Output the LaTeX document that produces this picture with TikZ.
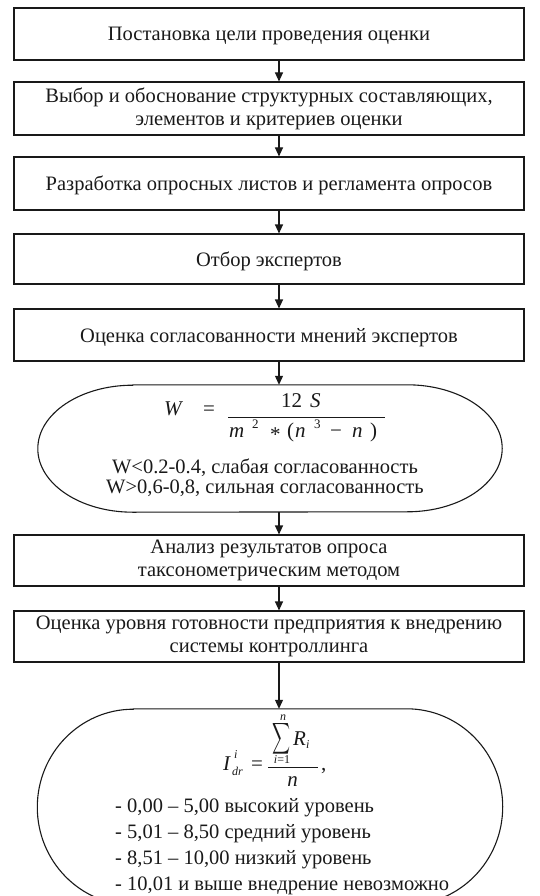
\documentclass[tikz,border=0pt]{standalone}
\usepackage{graphicx}
\usepackage{fontspec}
\setmainfont{Liberation Serif}
\usetikzlibrary{arrows.meta}
\tikzset{
  box/.style={draw, line width=1.1pt, minimum width=510pt, inner sep=0pt, align=center, font=\fontsize{20.5}{23}\selectfont},
  one/.style={text height=14pt, text depth=0pt},
  plain/.style={inner sep=0pt, font=\fontsize{20.5}{23}\selectfont},
  fm/.style={inner sep=0pt, font=\fontsize{21}{21}\selectfont\itshape},
  fu/.style={inner sep=0pt, font=\fontsize{21}{21}\selectfont},
  sm/.style={inner sep=0pt, font=\fontsize{12}{12}\selectfont\itshape},
  su/.style={inner sep=0pt, font=\fontsize{13}{13}\selectfont},
  fbar/.style={line width=0.9pt},
  arr/.style={-{Triangle[length=9pt,width=8pt]}, line width=1.1pt},
  stad/.style={line width=1.1pt},
}
\begin{document}
\begin{tikzpicture}[x=1pt,y=1pt,color=black!90]
\useasboundingbox (0,0) rectangle (540,-896);
\node[box, one, minimum height=52pt] (b1) at (269,-34) {Постановка цели проведения оценки};
\node[box, minimum height=53pt] (b2) at (269,-108.5) {Выбор и обоснование структурных составляющих,\\элементов и критериев оценки};
\node[box, one, minimum height=53pt] (b3) at (269,-183.5) {Разработка опросных листов и регламента опросов};
\node[box, one, minimum height=50pt] (b4) at (269,-259) {Отбор экспертов};
\node[box, one, minimum height=52pt] (b5) at (269,-335) {Оценка согласованности мнений экспертов};
% stadium 1
\node[minimum width=464pt, minimum height=127pt, inner sep=0pt] (s1) at (270,-448.5) {};
\draw[stad] ([xshift=95pt]s1.north west) -- ([xshift=-95pt]s1.north east)
  arc[start angle=90, end angle=-90, x radius=95pt, y radius=63.5pt]
  -- ([xshift=95pt]s1.south west)
  arc[start angle=270, end angle=90, x radius=95pt, y radius=63.5pt] -- cycle;
% formula W
\node[fm, anchor=base west] (fW) at (164,-415) {W};
\node[fu, anchor=base west] (feq) at (203,-415) {=};
\node[fu, anchor=base west] (fn12) at (281,-407) {12};
\node[fm, anchor=base west] (fnS) at (310,-407) {S};
\coordinate (fba) at (228,-417);
\coordinate (fbb) at (385,-417);
\draw[fbar] (fba) -- (fbb);
\node[fm, anchor=base west] (fdm) at (229,-437) {m};
\node[su, anchor=base west] (fd2) at (252,-428) {2};
\node[fu, anchor=base west] (fdst) at (270,-441) {*};
\node[fu, anchor=base west] (fdo) at (287,-437) {(};
\node[fm, anchor=base west] (fdn) at (295,-437) {n};
\node[su, anchor=base west] (fd3) at (314,-428) {3};
\node[fu, anchor=base west] (fdmi) at (330,-437) {−};
\node[fm, anchor=base west] (fdn2) at (352,-437) {n};
\node[fu, anchor=base west] (fdc) at (370,-437) {)};
\node[plain, anchor=base] (t1) at (265,-473) {W<0.2-0.4, слабая согласованность};
\node[plain, anchor=base] (t2) at (265,-493) {W>0,6-0,8, сильная согласованность};
\node[box, minimum height=51pt] (b6) at (269,-560.5) {Анализ результатов опроса\\таксонометрическим методом};
\node[box, minimum height=51pt] (b7) at (269,-636.5) {Оценка уровня готовности предприятия к внедрению\\системы контроллинга};
% stadium 2
\node[minimum width=465pt, minimum height=196pt, inner sep=0pt] (s2) at (270,-807) {};
\draw[stad] ([xshift=96pt]s2.north west) -- ([xshift=-96pt]s2.north east)
  arc[start angle=90, end angle=-90, x radius=96pt, y radius=98pt]
  -- ([xshift=96pt]s2.south west)
  arc[start angle=270, end angle=90, x radius=96pt, y radius=98pt] -- cycle;
% formula I
\node[fm, anchor=base west] (gI) at (223,-770) {I};
\node[sm, anchor=base west] (gi) at (234,-758) {i};
\node[sm, anchor=base west] (gdr) at (232,-775) {dr};
\node[fu, anchor=base west] (geq) at (251,-770) {=};
\node[inner sep=0pt] (gsum) at (281,-738.5) {\resizebox{18pt}{23pt}{$\displaystyle\sum$}};
\node[sm, anchor=base] (gn) at (283,-720) {n};
\node[sm, anchor=base] (gi1) at (282,-763) {i\upshape =1};
\node[fm, anchor=base west] (gR) at (293,-745) {R};
\node[sm, anchor=base west] (gRi) at (306,-748) {i};
\coordinate (gba) at (268,-767);
\coordinate (gbb) at (318,-767);
\draw[fbar] (gba) -- (gbb);
\node[fm, anchor=base] (gnd) at (292.5,-786) {n};
\node[fu, anchor=base west] (gc) at (321,-770) {,};
\node[plain, anchor=base west] (l1) at (115,-812) {- 0,00 – 5,00 высокий уровень};
\node[plain, anchor=base west] (l2) at (115,-838) {- 5,01 – 8,50 средний уровень};
\node[plain, anchor=base west] (l3) at (115,-864) {- 8,51 – 10,00 низкий уровень};
\node[plain, anchor=base west] (l4) at (115,-890) {- 10,01 и выше внедрение невозможно};
% arrows
\draw[arr] (b1.south -| 279,0) -- (b2.north -| 279,0);
\draw[arr] (b2.south -| 279,0) -- (b3.north -| 279,0);
\draw[arr] (b3.south -| 279,0) -- (b4.north -| 279,0);
\draw[arr] (b4.south -| 279,0) -- (b5.north -| 279,0);
\draw[arr] (b5.south -| 279,0) -- (s1.north -| 279,0);
\draw[arr] (s1.south -| 279,0) -- (b6.north -| 279,0);
\draw[arr] (b6.south -| 279,0) -- (b7.north -| 279,0);
\draw[arr] (b7.south -| 279,0) -- (s2.north -| 279,0);
\end{tikzpicture}
\end{document}
